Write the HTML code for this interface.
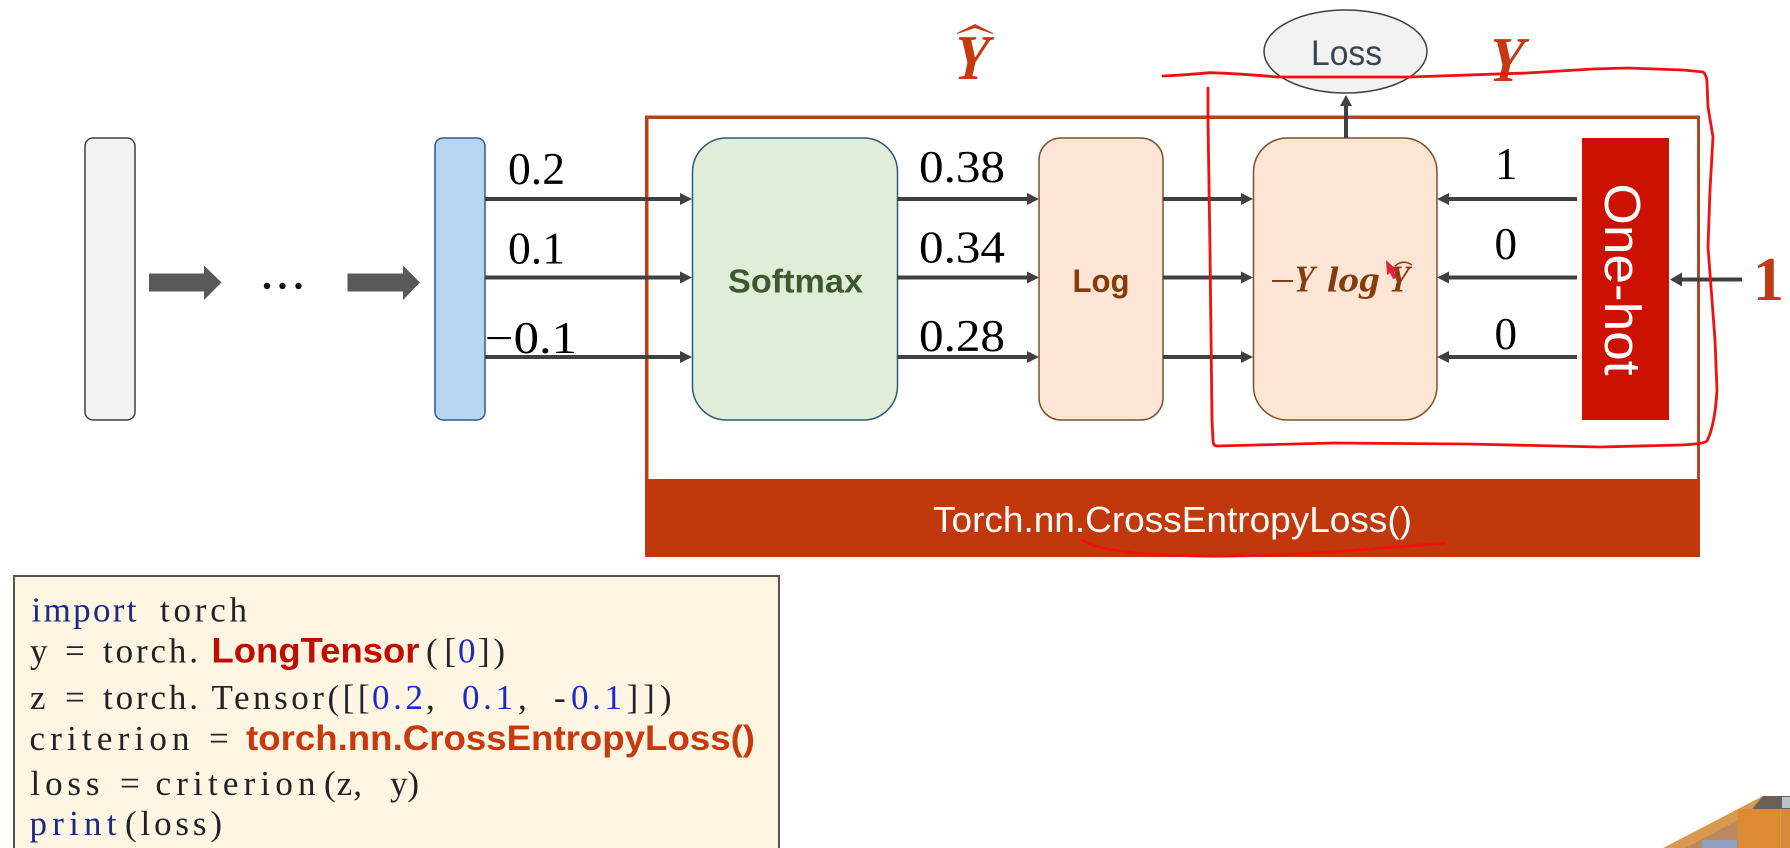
<!DOCTYPE html>
<html>
<head>
<meta charset="utf-8">
<style>
html,body{margin:0;padding:0;background:#fff;width:1790px;height:848px;overflow:hidden}
svg{display:block}
.n{font-family:"Liberation Serif",serif;font-size:45px;fill:#000}
.c{font-family:"Liberation Serif",serif;font-size:35px;fill:#222}
.k{font-family:"Liberation Serif",serif;font-size:35px;fill:#1a2a80}
.b{font-family:"Liberation Serif",serif;font-size:35px;fill:#1a2cc8}
.h{font-family:"Liberation Sans",sans-serif;font-weight:bold;font-size:35px}
.m{font-family:"Liberation Serif",serif;font-weight:bold;font-style:italic}
.u{font-family:"Liberation Serif",serif;font-weight:bold;font-style:normal}
.s{font-family:"Liberation Sans",sans-serif}
</style>
</head>
<body>
<svg width="1790" height="848" viewBox="0 0 1790 848" xmlns="http://www.w3.org/2000/svg">
<rect width="1790" height="848" fill="#fff"/>

<!-- left bars -->
<rect x="85" y="138" width="50" height="282" rx="8" fill="#f2f2f2" stroke="#404040" stroke-width="1.5"/>
<rect x="435" y="138" width="50" height="282" rx="8" fill="#b8d4f0" stroke="#2f5a88" stroke-width="1.5"/>
<polygon points="149,273.5 204,273.5 204,265.5 221.5,282.5 204,300 204,291.5 149,291.5" fill="#595959"/>
<polygon points="347.5,273.5 403,273.5 403,265.5 420,282.5 403,300 403,291.5 347.5,291.5" fill="#595959"/>
<circle cx="267" cy="286" r="3.2" fill="#111"/><circle cx="282.5" cy="286" r="3.2" fill="#111"/><circle cx="298.5" cy="286" r="3.2" fill="#111"/>

<!-- frame -->
<rect x="645" y="115.5" width="1055" height="441.5" fill="#fff"/>
<rect x="645" y="115.5" width="3.5" height="441.5" fill="#c13c12"/>
<rect x="645" y="115.5" width="1055" height="3.5" fill="#b04420"/>
<rect x="1697" y="115.5" width="3" height="441.5" fill="#a8492a"/>
<rect x="645" y="479" width="1055" height="78" fill="#c0380c"/>
<text class="s" x="933" y="532" font-size="36" fill="#fff" textLength="479" lengthAdjust="spacingAndGlyphs">Torch.nn.CrossEntropyLoss()</text>

<!-- boxes -->
<rect x="692.5" y="138" width="205" height="282" rx="34" fill="#e0eed9" stroke="#2f5a78" stroke-width="1.5"/>
<text class="s" x="728" y="292.5" font-size="33" font-weight="bold" fill="#3d5a2e" textLength="135" lengthAdjust="spacingAndGlyphs">Softmax</text>
<rect x="1039" y="138" width="124" height="282" rx="22" fill="#fde5d6" stroke="#7f4f28" stroke-width="1.5"/>
<text class="s" x="1072.5" y="292" font-size="32" font-weight="bold" fill="#843c0c" textLength="57" lengthAdjust="spacingAndGlyphs">Log</text>
<rect x="1253.5" y="138" width="183.5" height="282" rx="34" fill="#fde5d6" stroke="#7f4f28" stroke-width="1.5"/>
<rect x="1272" y="280" width="21" height="2" fill="#843c0c"/>
<text class="u" transform="translate(1291 291.5) skewX(-12.5) scale(.78 1)" font-size="38" fill="#843c0c">Y</text>
<text class="m" x="1327" y="291.5" font-size="36" fill="#843c0c" textLength="53" lengthAdjust="spacingAndGlyphs">log</text>
<text class="u" transform="translate(1386 291.5) skewX(-12.5) scale(.78 1)" font-size="38" fill="#843c0c">Y</text>
<path d="M1395 266 Q1403 259 1412 265" fill="none" stroke="#843c0c" stroke-width="1.5"/>

<!-- one-hot -->
<rect x="1582" y="138" width="87" height="282" fill="#cc1100"/>
<text class="s" transform="translate(1605 183.5) rotate(90)" font-size="51" fill="#fff" textLength="192" lengthAdjust="spacingAndGlyphs">One-hot</text>

<!-- loss -->
<ellipse cx="1345.5" cy="51.5" rx="81.5" ry="41.5" fill="#f2f2f2" stroke="#404040" stroke-width="1.5"/>
<text class="s" x="1311" y="65" font-size="35" fill="#3a4450" textLength="71" lengthAdjust="spacingAndGlyphs">Loss</text>
<line x1="1346" y1="138" x2="1346" y2="104" stroke="#404040" stroke-width="4"/>
<polygon points="1340,106 1346,95 1352,106" fill="#404040"/>

<!-- arrows -->
<g stroke="#404040" stroke-width="4">
<line x1="485" y1="199" x2="684" y2="199"/><line x1="485" y1="277.5" x2="684" y2="277.5"/><line x1="485" y1="357" x2="684" y2="357"/>
<line x1="897" y1="199" x2="1031" y2="199"/><line x1="897" y1="277.5" x2="1031" y2="277.5"/><line x1="897" y1="357" x2="1031" y2="357"/>
<line x1="1163" y1="199" x2="1245" y2="199"/><line x1="1163" y1="277.5" x2="1245" y2="277.5"/><line x1="1163" y1="357" x2="1245" y2="357"/>
<line x1="1577" y1="199" x2="1445" y2="199"/><line x1="1577" y1="277.5" x2="1445" y2="277.5"/><line x1="1577" y1="357" x2="1445" y2="357"/>
<line x1="1742" y1="279.5" x2="1678" y2="279.5"/>
</g>
<g fill="#404040">
<polygon points="680,193 692,199 680,205"/><polygon points="680,271.5 692,277.5 680,283.5"/><polygon points="680,351 692,357 680,363"/>
<polygon points="1027,193 1039,199 1027,205"/><polygon points="1027,271.5 1039,277.5 1027,283.5"/><polygon points="1027,351 1039,357 1027,363"/>
<polygon points="1241,193 1253,199 1241,205"/><polygon points="1241,271.5 1253,277.5 1241,283.5"/><polygon points="1241,351 1253,357 1241,363"/>
<polygon points="1449,193 1437,199 1449,205"/><polygon points="1449,271.5 1437,277.5 1449,283.5"/><polygon points="1449,351 1437,357 1449,363"/>
<polygon points="1682,272.5 1670,279.5 1682,286.5"/>
</g>

<!-- numbers -->
<text class="n" x="508" y="184" textLength="57" lengthAdjust="spacingAndGlyphs">0.2</text>
<text class="n" x="508" y="263.5" textLength="57" lengthAdjust="spacingAndGlyphs">0.1</text>
<text class="n" x="485" y="353" textLength="92" lengthAdjust="spacingAndGlyphs">−0.1</text>
<text class="n" x="919" y="182" textLength="86" lengthAdjust="spacingAndGlyphs">0.38</text>
<text class="n" x="919" y="262.5" textLength="86" lengthAdjust="spacingAndGlyphs">0.34</text>
<text class="n" x="919" y="351" textLength="86" lengthAdjust="spacingAndGlyphs">0.28</text>
<text class="n" x="1495" y="179">1</text>
<text class="n" x="1494.5" y="259">0</text>
<text class="n" x="1494.5" y="349">0</text>

<!-- hats and Y -->
<text class="u" transform="translate(949 79) skewX(-12.5) scale(.8 1)" font-size="64" fill="#c4390f">Y</text>
<polygon points="957,33 975,24 993,33 993,34 975,28 957,34" fill="#c4390f"/>
<text class="u" transform="translate(1484 81) skewX(-12.5) scale(.8 1)" font-size="64" fill="#c4390f">Y</text>
<text class="u" x="1753" y="300" font-size="62" fill="#bf3c14">1</text>

<!-- red handwriting -->
<path d="M1163 76 Q1185 75 1210 72.7 Q1245 74 1277 77 L1410 77 L1527 73 L1593 69 L1627 68 L1683 70 L1703 72 Q1707 75 1707 83 L1708 107 L1713 137 L1710 190 L1708 247 L1712 300 L1715 340 L1717 390 Q1715 425 1707 441 Q1704 444 1680 445 L1600 447 L1467 444 L1333 443 L1217 446 Q1213 446 1213 440 L1212 420 L1210 250 L1208 120 L1208 88" fill="none" stroke="#f01010" stroke-width="2.8" stroke-linejoin="round" stroke-linecap="round"/>
<path d="M1082 540 Q1095 549 1131 552.5 Q1180 557 1234 556 Q1300 555 1349 550.5 Q1410 546 1445 543" fill="none" stroke="#f01010" stroke-width="2.8" stroke-linecap="round"/>
<polygon points="1386,260 1398,271 1394,272 1397,278 1393,279 1390,273 1387,275" fill="#e0243c"/>

<!-- code box -->
<rect x="14" y="576" width="765" height="280" fill="#fef5e3" stroke="#555" stroke-width="2"/>

<text class="k" x="31.5" y="621.5" textLength="105">import</text>
<text class="c" x="160" y="621.5" textLength="87">torch</text>

<text class="c" x="30" y="662.5">y</text>
<text class="c" x="65" y="662.5">=</text>
<text class="c" x="103" y="662.5" textLength="95">torch.</text>
<text class="h" x="211.5" y="662.5" fill="#c00d00" textLength="208" lengthAdjust="spacingAndGlyphs">LongTensor</text>
<text class="c" x="426" y="662.5" textLength="30">([</text>
<text class="b" x="458" y="662.5">0</text>
<text class="c" x="478" y="662.5" textLength="27">])</text>

<text class="c" x="30" y="709">z</text>
<text class="c" x="65" y="709">=</text>
<text class="c" x="103" y="709" textLength="95">torch.</text>
<text class="c" x="211.5" y="709" textLength="158">Tensor([[</text>
<text class="b" x="372" y="709" textLength="51">0.2</text>
<text class="c" x="426" y="709">,</text>
<text class="b" x="462" y="709" textLength="51">0.1</text>
<text class="c" x="518" y="709">,</text>
<text class="c" x="554" y="709">-</text>
<text class="b" x="571" y="709" textLength="51">0.1</text>
<text class="c" x="626.5" y="709" textLength="45">]])</text>

<text class="c" x="29.5" y="750" textLength="160">criterion</text>
<text class="c" x="209" y="750">=</text>
<text class="h" x="246" y="750" fill="#c63a10" textLength="509" lengthAdjust="spacingAndGlyphs">torch.nn.CrossEntropyLoss()</text>

<text class="c" x="30.5" y="795" textLength="69">loss</text>
<text class="c" x="120" y="795">=</text>
<text class="c" x="155.5" y="795" textLength="160">criterion</text>
<text class="c" x="324" y="795" textLength="38">(z,</text>
<text class="c" x="390" y="795" textLength="29">y)</text>

<text class="k" x="29.5" y="835" textLength="87">print</text>
<text class="c" x="125" y="835" textLength="97">(loss)</text>

<!-- corner photo -->
<polygon points="1663,848 1763,796 1790,796 1790,848" fill="#d99a50"/>
<polygon points="1685,848 1738,820 1738,848" fill="#b98a60"/>
<rect x="1738" y="809" width="42" height="39" fill="#dd8a35"/>
<rect x="1781" y="809" width="9" height="39" fill="#d88a3a"/>
<rect x="1702" y="840" width="35" height="8" fill="#8fa0c0"/>
<polygon points="1763,796 1790,796 1790,809 1752,809" fill="#6b6058"/>
<rect x="1782" y="797" width="8" height="11" fill="#b9c4c8"/>
</svg>
</body>
</html>
